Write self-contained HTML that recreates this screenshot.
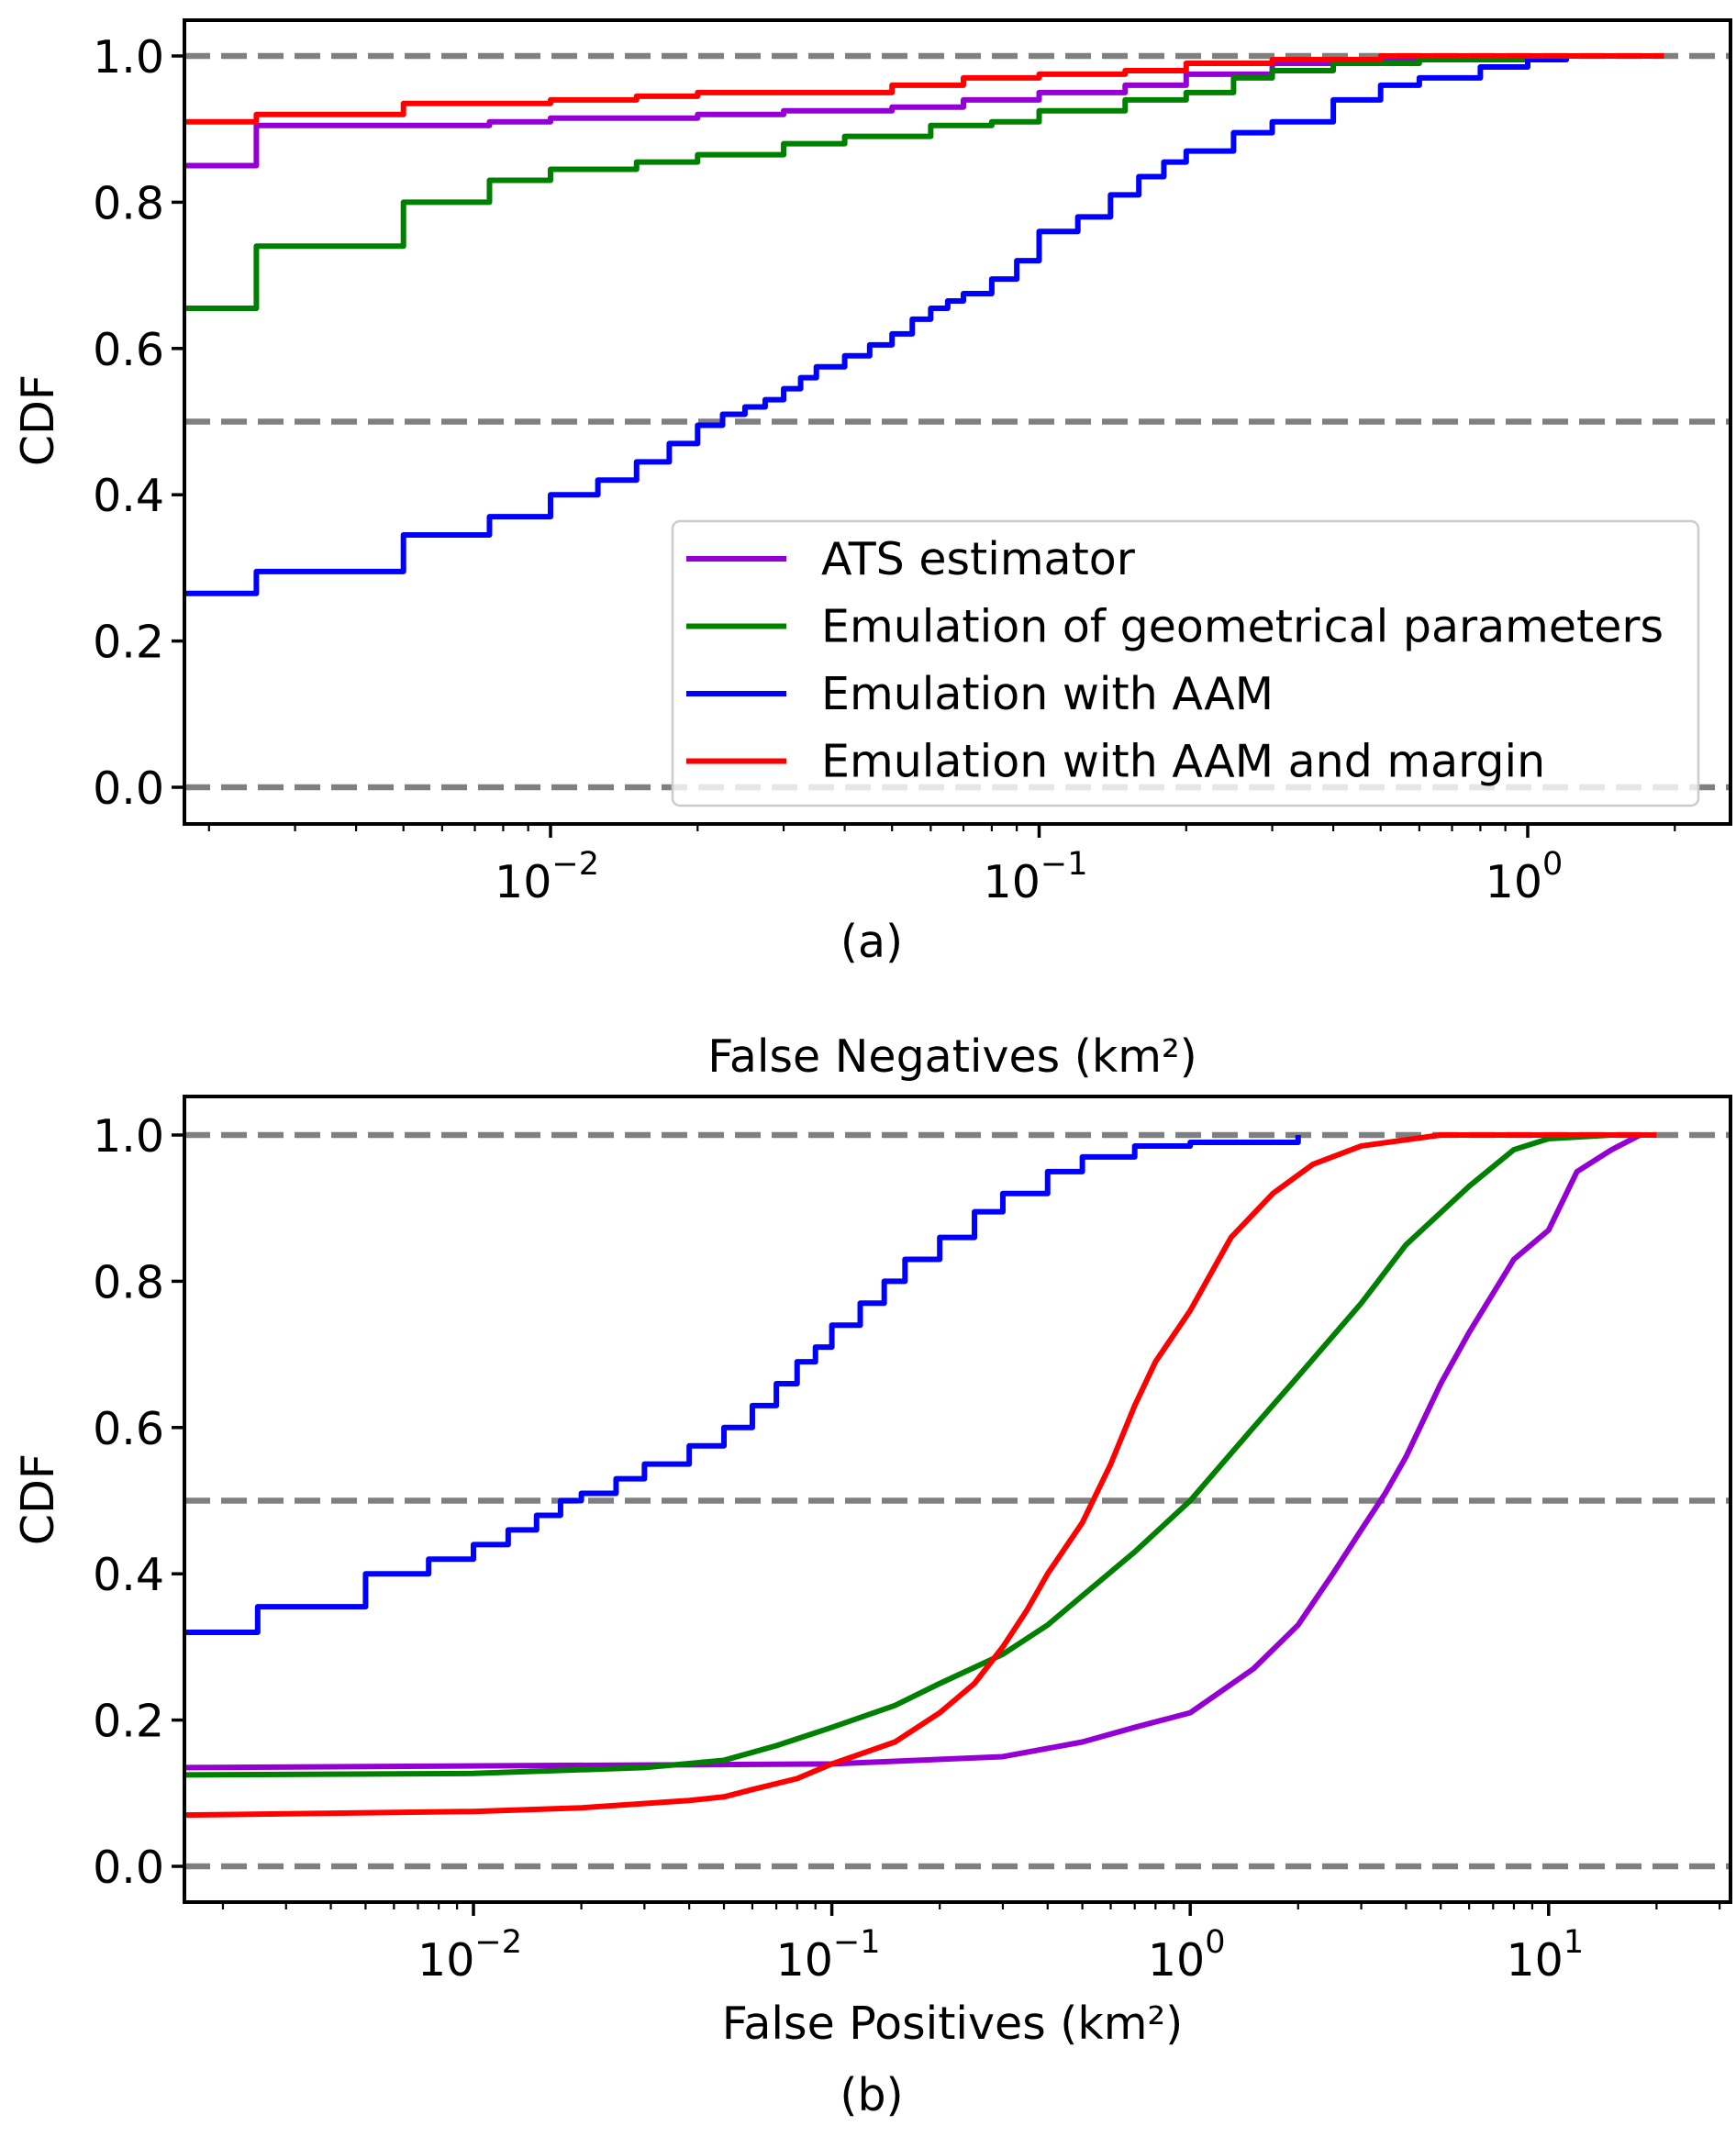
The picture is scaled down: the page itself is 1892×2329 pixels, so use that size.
<!DOCTYPE html>
<html><head><meta charset="utf-8"><style>
html,body{margin:0;padding:0;background:#fff}
svg{display:block;font-family:"DejaVu Sans","Liberation Sans",sans-serif}
</style></head><body>
<svg id="fig" width="1892" height="2329" viewBox="0 0 1892 2329"></svg>
<script>
// ---- data: top panel (a) False Negatives ----
const topAtsX=[0.0015,0.0025,0.0075,0.01,0.02,0.03,0.05,0.07,0.1,0.15,0.2,0.3,0.5,1.0,1.9];
const topAtsY=[0.85,0.905,0.91,0.915,0.92,0.925,0.93,0.94,0.95,0.96,0.975,0.99,0.997,1.0,1.0];
const topGeoX=[0.0015,0.0025,0.005,0.0075,0.01,0.015,0.02,0.03,0.04,0.06,0.08,0.1,0.15,0.2,0.25,0.3,0.4,0.6,1.0,1.9];
const topGeoY=[0.655,0.74,0.80,0.83,0.845,0.855,0.865,0.88,0.89,0.905,0.91,0.925,0.94,0.95,0.97,0.98,0.99,0.995,1.0,1.0];
const topAamX=[0.0015,0.0025,0.005,0.0075,0.01,0.0125,0.015,0.0175,0.02,0.0225,0.025,0.0275,0.03,0.0325,0.035,0.04,0.045,0.05,0.055,0.06,0.065,0.07,0.08,0.09,0.1,0.12,0.14,0.16,0.18,0.2,0.25,0.3,0.4,0.5,0.6,0.8,1.0,1.2,1.9];
const topAamY=[0.265,0.295,0.345,0.37,0.40,0.42,0.445,0.47,0.495,0.51,0.52,0.53,0.545,0.56,0.575,0.59,0.605,0.62,0.64,0.655,0.665,0.675,0.695,0.72,0.76,0.78,0.81,0.835,0.855,0.87,0.895,0.91,0.94,0.96,0.97,0.985,0.995,1.0,1.0];
const topMarX=[0.0015,0.0025,0.005,0.01,0.015,0.02,0.05,0.07,0.1,0.15,0.2,0.3,0.5,1.9];
const topMarY=[0.91,0.92,0.935,0.94,0.945,0.95,0.96,0.97,0.975,0.98,0.99,0.995,1.0,1.0];
// ---- data: bottom panel (b) False Positives ----
const botAtsX=[0.0015,0.1,0.3,0.5,0.7,1.0,1.5,2,2.5,3,3.5,4,5,6,8,10,12,15,18,20];
const botAtsY=[0.135,0.14,0.15,0.17,0.19,0.21,0.27,0.33,0.40,0.46,0.51,0.56,0.66,0.73,0.83,0.87,0.95,0.98,1.0,1.0];
const botGeoX=[0.0015,0.01,0.03,0.05,0.07,0.1,0.15,0.2,0.3,0.4,0.5,0.7,1.0,1.5,2,3,4,6,8,10,15,20];
const botGeoY=[0.125,0.127,0.135,0.145,0.165,0.19,0.22,0.25,0.29,0.33,0.37,0.43,0.50,0.60,0.67,0.77,0.85,0.93,0.98,0.995,1.0,1.0];
const botAamX=[0.0015,0.0025,0.005,0.0075,0.01,0.0125,0.015,0.0175,0.02,0.025,0.03,0.04,0.05,0.06,0.07,0.08,0.09,0.1,0.12,0.14,0.16,0.2,0.25,0.3,0.4,0.5,0.7,1.0,2.0];
const botAamY=[0.32,0.355,0.40,0.42,0.44,0.46,0.48,0.50,0.51,0.53,0.55,0.575,0.60,0.63,0.66,0.69,0.71,0.74,0.77,0.80,0.83,0.86,0.895,0.92,0.95,0.97,0.985,0.99,1.0];
const botMarX=[0.0015,0.01,0.02,0.04,0.05,0.06,0.08,0.1,0.15,0.2,0.25,0.3,0.35,0.4,0.5,0.6,0.7,0.8,1.0,1.3,1.7,2.2,3,5,20];
const botMarY=[0.07,0.075,0.08,0.09,0.095,0.105,0.12,0.14,0.17,0.21,0.25,0.30,0.35,0.40,0.47,0.55,0.63,0.69,0.76,0.86,0.92,0.96,0.985,1.0,1.0];
const yTicks=[0.0,0.2,0.4,0.6,0.8,1.0];
const yTickLabels=["0.0","0.2","0.4","0.6","0.8","1.0"];
const refLines=[0.0,0.5,1.0];
const legendLabels=["ATS estimator","Emulation of geometrical parameters","Emulation with AAM","Emulation with AAM and margin"];

const NS="http://www.w3.org/2000/svg";
const svg=document.getElementById('fig');
const FS=49;
function mk(tag,attrs,parent){const e=document.createElementNS(NS,tag);for(const k in attrs)e.setAttribute(k,attrs[k]);(parent||svg).appendChild(e);return e;}
const COL={ats:"#9400d3",geo:"#008000",aam:"#0000ff",mar:"#ff0000"};

function panel(cfg){
  const g=mk('g',{});
  
  
  const L=201,R=1886;
  const xs=v=>cfg.x0+(Math.log10(v)-cfg.d0)*cfg.dec;
  const ys=v=>cfg.y0-v*797;
  const clip='clip'+cfg.name;
  const cp=mk('clipPath',{id:clip},g);mk('rect',{x:L,y:cfg.top,width:R-L,height:cfg.bot-cfg.top},cp);
  refLines.forEach(v=>{const l=mk('line',{x1:L,x2:R,y1:ys(v),y2:ys(v),stroke:"#808080","stroke-width":6.5,"stroke-dasharray":"28,12"},g);
    
    });
  cfg.series.forEach(s=>{
    let d='';
    for(let i=0;i<s.x.length;i++){
      const px=xs(s.x[i]),py=ys(s.y[i]);
      if(i===0)d+='M'+px+','+py;
      else if(s.step)d+='H'+px+'V'+py;
      else d+='L'+px+','+py;
    }
    const p=mk('path',{d:d,fill:"none",stroke:s.c,"stroke-width":6,"stroke-linejoin":"round","clip-path":"url(#"+clip+")"},g);
    
    
  });
  const fr=mk('rect',{x:L,y:cfg.top,width:R-L,height:cfg.bot-cfg.top,fill:"none",stroke:"#000","stroke-width":4},g);
  
  
  yTicks.forEach((v,i)=>{mk('line',{x1:L-14,x2:L,y1:ys(v),y2:ys(v),stroke:"#000","stroke-width":3.5},g);
    const t=mk('text',{x:L-22,y:ys(v)+18,"text-anchor":"end","font-size":FS},g);t.textContent=yTickLabels[i];
    
    });
  for(let e=cfg.eMin;e<=cfg.eMax;e++){
    for(let m=1;m<10;m++){
      const v=m*Math.pow(10,e),px=xs(v);
      if(px<L||px>R)continue;
      mk('line',{x1:px,x2:px,y1:cfg.bot,y2:cfg.bot+(m===1?15:8),stroke:"#000","stroke-width":m===1?3.5:2.2},g);
      if(m===1){const t=mk('text',{x:px-4,y:cfg.bot+80,"text-anchor":"middle","font-size":FS},g);
        
        
        t.textContent='10';
        const s=mk('tspan',{dy:-25,"font-size":35},t);s.textContent=(e<0?'−':'')+Math.abs(e);}
    }
  }
  const yl=mk('text',{x:0,y:0,transform:`translate(58,${cfg.y0-400}) rotate(-90)`,"text-anchor":"middle","font-size":FS},g);
  yl.textContent='CDF';
  
  
  return {g,xs,ys};
}
panel({name:'panel-a',top:22,bot:898,y0:858,x0:600,dec:532.5,d0:-2,eMin:-3,eMax:0,series:[
  {n:'series-ats-estimator',x:topAtsX,y:topAtsY,c:COL.ats,step:true},
  {n:'series-geometrical-parameters',x:topGeoX,y:topGeoY,c:COL.geo,step:true},
  {n:'series-aam',x:topAamX,y:topAamY,c:COL.aam,step:true},
  {n:'series-aam-margin',x:topMarX,y:topMarY,c:COL.mar,step:true}]});
panel({name:'panel-b',top:1195,bot:2073,y0:2034,x0:516,dec:390.6,d0:-2,eMin:-3,eMax:1,series:[
  {n:'series-ats-estimator',x:botAtsX,y:botAtsY,c:COL.ats,step:false},
  {n:'series-geometrical-parameters',x:botGeoX,y:botGeoY,c:COL.geo,step:false},
  {n:'series-aam',x:botAamX,y:botAamY,c:COL.aam,step:true},
  {n:'series-aam-margin',x:botMarX,y:botMarY,c:COL.mar,step:false}]});
const lg=mk('g',{});


mk('rect',{x:733,y:568,width:1118,height:310,rx:8,fill:"rgba(255,255,255,0.8)",stroke:"#cccccc","stroke-width":2.5},lg);
[COL.ats,COL.geo,COL.aam,COL.mar].forEach((c,i)=>{
  const y=609+i*73.5;
  const e=mk('g',{},lg);
  
  
  mk('line',{x1:748,x2:857,y1:y,y2:y,stroke:c,"stroke-width":6},e);
  const t=mk('text',{x:895,y:y+17,"font-size":FS},e);t.textContent=legendLabels[i];
});
function label(txt,x,y,name){const t=mk('text',{x:x,y:y,"text-anchor":"middle","font-size":FS});t.textContent=txt;
  
  }
label('(a)',950,1043,'panel-a-caption');
label('False Negatives (km²)',1038,1168,'panel-a-x-axis-title');
label('False Positives (km²)',1038,2222,'panel-b-x-axis-title');
label('(b)',950,2300,'panel-b-caption');
</script>
</body></html>
